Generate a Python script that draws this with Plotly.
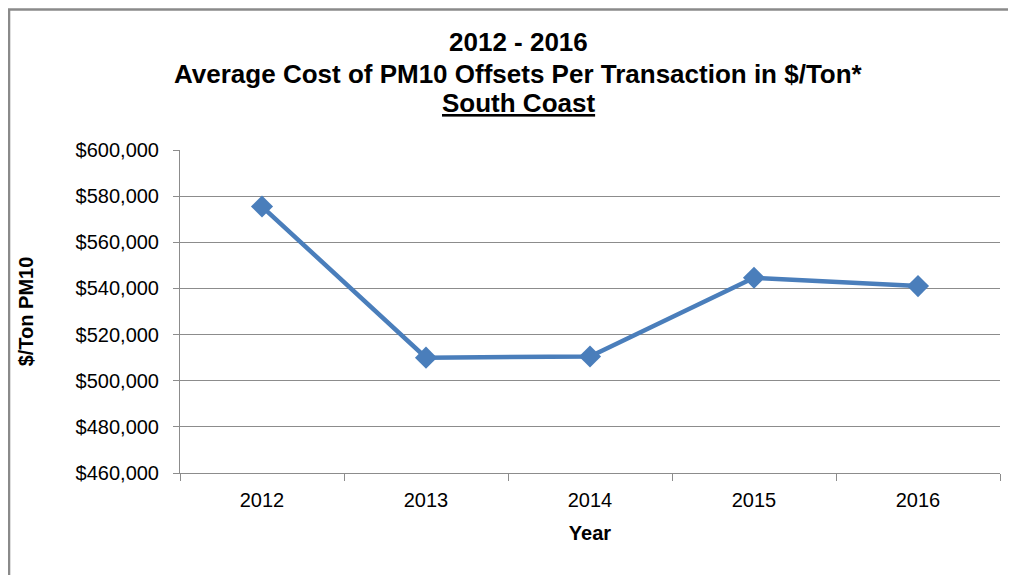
import plotly.graph_objects as go

years = ["2012", "2013", "2014", "2015", "2016"]
cost = [575500, 510000, 510500, 544600, 541000]
y_ticks = [460000, 480000, 500000, 520000, 540000, 560000, 580000, 600000]

title_lines = ["2012 - 2016", "Average Cost of PM10 Offsets Per Transaction in $/Ton*", "South Coast"]
y_title = "$/Ton PM10"
x_title = "Year"

font_family = "Liberation Sans, Arial, sans-serif"
blue = "#4A7EBB"
grid = "#8C8C8C"

fig = go.Figure()
fig.add_trace(go.Scatter(
    x=years, y=cost, mode="lines+markers",
    line=dict(color=blue, width=4.5),
    marker=dict(symbol="diamond", size=17, color=blue),
    showlegend=False, cliponaxis=False,
))

title_font = dict(size=26, family=font_family, weight="bold", color="black")
title_y = [1.334, 1.2355, 1.146]
annotations = []
for i, line in enumerate(title_lines):
    txt = "<u>" + line + "</u>" if i == 2 else line
    annotations.append(dict(
        text=txt, xref="paper", yref="paper", x=0.413, y=title_y[i],
        xanchor="center", yanchor="middle", showarrow=False, font=title_font,
    ))

# page has an 8px body margin, so the figure is 1008x567 and offsets are reduced by 8
fig.update_layout(
    width=1008, height=567,
    margin=dict(l=172, r=16, t=142, b=102),
    paper_bgcolor="white", plot_bgcolor="white",
    font=dict(family=font_family, color="black"),
    annotations=annotations,
    shapes=[dict(
        type="rect", xref="paper", yref="paper",
        x0=-0.2085, x1=1.05, y0=-0.4, y1=1.435,
        line=dict(color="#8A8A8A", width=2.5), fillcolor="rgba(0,0,0,0)", layer="below",
    )],
)

fig.update_yaxes(
    range=[460000, 600000], tickvals=y_ticks, tickformat="$,d",
    showgrid=True, gridcolor=grid, gridwidth=1,
    showline=True, linecolor=grid, linewidth=1,
    ticks="outside", ticklen=6, tickcolor=grid,
    tickfont=dict(size=20, family=font_family, color="black"),
    ticklabelstandoff=10,
    zeroline=False,
    automargin=False,
    title=dict(text=y_title, standoff=36, font=dict(size=20, family=font_family, weight="bold")),
)
fig.update_xaxes(
    type="category", range=[-0.5, 4.5],
    showgrid=False, showline=True, linecolor=grid, linewidth=1,
    ticks="outside", ticklen=7, tickcolor=grid, tickson="boundaries",
    tickfont=dict(size=20, family=font_family, color="black"),
    ticklabelstandoff=9,
    automargin=False,
    title=dict(text=x_title, standoff=15, font=dict(size=20, family=font_family, weight="bold")),
)

fig.write_html("out.html")
